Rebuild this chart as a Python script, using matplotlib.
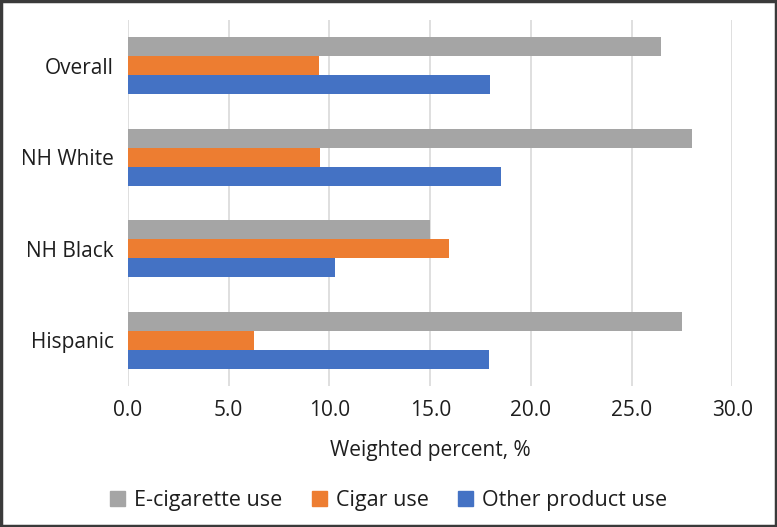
import numpy as np
import matplotlib
matplotlib.use("Agg")
import matplotlib.pyplot as plt
from matplotlib.patches import Patch, Rectangle

plt.rcParams["font.family"] = ["Open Sans", "DejaVu Sans"]

GROUPS = ["Overall", "NH White", "NH Black", "Hispanic"]
ECIG = [26.45, 28.0, 15.0, 27.5]
CIGAR = [9.5, 9.55, 15.95, 6.25]
OTHER = [17.95, 18.5, 10.25, 17.9]

SERIES = ["E-cigarette use", "Cigar use", "Other product use"]
COLORS = ["#A5A5A5", "#ED7D31", "#4472C4"]
XTICKS = [0, 5, 10, 15, 20, 25, 30]
TXT = "#1e1e1e"

fig = plt.figure(figsize=(7.77, 5.27), dpi=100)
ax = fig.add_axes([0.1647, 0.2676, 0.778, 0.6944])

y = np.arange(len(GROUPS))
h = 0.207
for vals, off, col in zip([ECIG, CIGAR, OTHER], [-h, 0, h], COLORS):
    ax.barh(y + off, vals, height=h, color=col, zorder=3)

ax.set_xlim(0, 30)
ax.set_ylim(3.5, -0.5)
ax.set_xticks(XTICKS)
ax.set_xticklabels([f"{v:.1f}" for v in XTICKS], fontsize=15)
ax.set_yticks(y)
ax.set_yticklabels(GROUPS, fontsize=15)
ax.tick_params(length=0, colors=TXT)
ax.tick_params(axis="x", pad=10)
ax.tick_params(axis="y", pad=10)
ax.grid(axis="x", color="#D9D9D9", lw=1.2, zorder=0)
for s in ax.spines.values():
    s.set_visible(False)
ax.set_xlabel("Weighted percent, %", fontsize=15, labelpad=14, color=TXT)

handles = [Patch(color=c, label=l) for c, l in zip(COLORS, SERIES)]
fig.legend(handles=handles, loc="center", bbox_to_anchor=(0.5, 0.05), ncol=3,
           frameon=False, fontsize=15.5, handlelength=0.7, handleheight=0.65,
           handletextpad=0.42, columnspacing=1.35, labelcolor=TXT)

fig.patches.append(Rectangle((0.001, 0.001), 0.998, 0.998, transform=fig.transFigure,
                             fill=False, edgecolor="#3a3a3a", lw=2.5))

fig.savefig("out.png", dpi=100)
